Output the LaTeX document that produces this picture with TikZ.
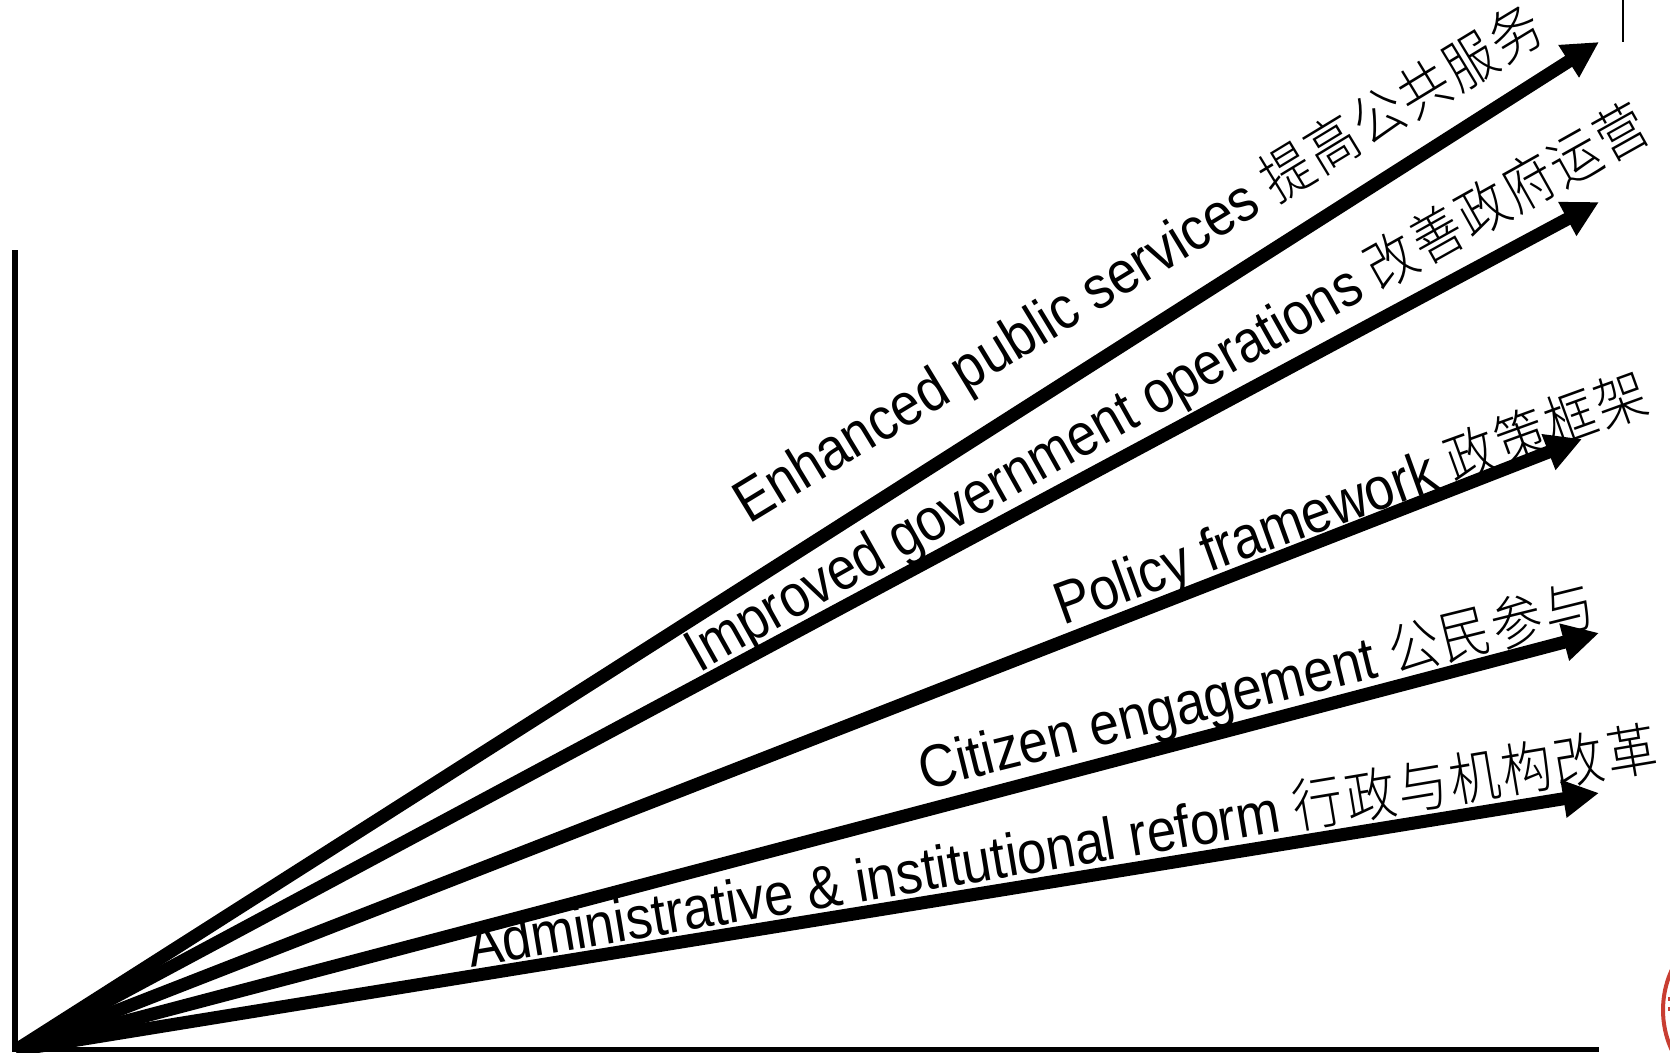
\documentclass[tikz,border=0pt]{standalone}
\usepackage{fontspec}
\setmainfont{Liberation Sans}
\newfontfamily\cjk{Noto Sans CJK SC Light}[Scale=.96,LetterSpace=5]
\usetikzlibrary{arrows.meta}
\definecolor{sealred}{RGB}{200,62,50}
\tikzset{
  x=1pt,y=-1pt,
  axisline/.style={line width=6pt,black},
  ray/.style={line width=13pt,black,-{Triangle[length=36pt,width=36pt]}},
  lab/.style={anchor=base west,inner sep=0pt,outer sep=0pt,font=\fontsize{60pt}{64pt}\selectfont,black,transform shape},
}
\begin{document}
\begin{tikzpicture}
\useasboundingbox (0,0) rectangle (1670,1052);
\clip (0,0) rectangle (1670,1052);
\coordinate (o) at (16,1050);
\coordinate (t1) at (1599,42);
\coordinate (t2) at (1599,202);
\coordinate (t3) at (1582,439);
\coordinate (t4) at (1599,633);
\coordinate (t5) at (1599,793);
\coordinate (axtop) at (15,250);
\coordinate (axbot) at (15,1052);
\coordinate (axo) at (15,1049.5);
\coordinate (axr) at (1599,1049.5);
\coordinate (ticka) at (1623,0);
\coordinate (tickb) at (1623,42);
\draw[axisline] (axtop) -- (axbot);
\draw[line width=5pt,black] (axo) -- (axr);
\draw[line width=2pt] (ticka) -- (tickb);
\foreach \t in {t1,t2,t3,t4,t5} \draw[ray] (o) -- (\t);
\node[lab,rotate=31.3,xscale=.885] (l1) at (749,524) {Enhanced public services {\cjk 提高公共服务}};
\node[lab,rotate=29.3,xscale=.87] (l2) at (699,673) {Improved government operations {\cjk 改善政府运营}};
\node[lab,rotate=19.9,xscale=.88] (l3) at (1063,625) {Policy framework {\cjk 政策框架}};
\node[lab,rotate=13.9,xscale=.88] (l4) at (924,790) {Citizen engagement {\cjk 公民参与}};
\node[lab,rotate=9.5,xscale=.875] (l5) at (471,967) {Administrative \& institutional reform {\cjk 行政与机构改革}};
\draw[line width=4pt,sealred] (1759,1010) circle[radius=96];
\fill[sealred] (1668,997) rectangle (1670,1001);
\fill[sealred] (1668,1007) rectangle (1670,1011);
\end{tikzpicture}
\end{document}
